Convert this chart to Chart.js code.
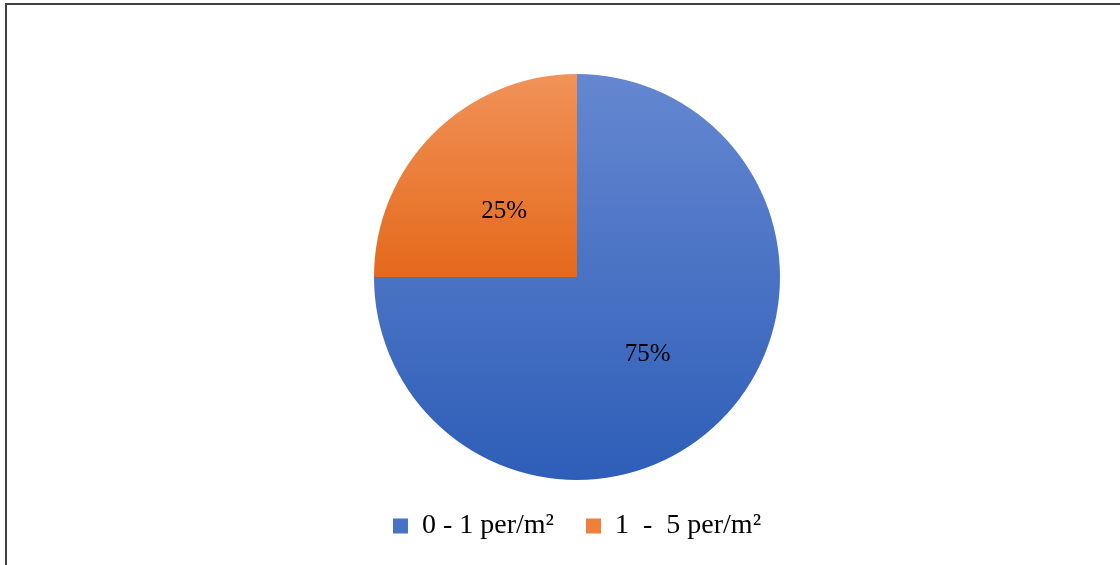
<!DOCTYPE html>
<html>
<head>
<meta charset="utf-8">
<script src="https://cdn.jsdelivr.net/npm/chart.js@4"></script>
<style>
  body { margin: 0; background: #fff; overflow: hidden; }
  #wrap { position: relative; width: 1120px; height: 565px; }
  #frame { position: absolute; left: 5px; top: 3px; width: 1200px; height: 700px; border: 2px solid #404040; }
  #myChart { position: absolute; left: 0; top: 0; }
</style>
</head>
<body>
<div id="wrap">
  <div id="frame"></div>
  <canvas id="myChart" width="1120" height="565"></canvas>
</div>
<script>
var labels = ["0 - 1 per/m²", "1  -  5 per/m²"];
var valores = [75, 25];
var coloresArriba = ["rgb(101,135,208)", "rgb(241,146,89)"];
var coloresAbajo = ["rgb(46,94,184)", "rgb(228,105,27)"];
var coloresLeyenda = ["rgb(70,114,200)", "rgb(238,128,60)"];

// degradado vertical por porcion, segun su caja
function degradado(ctx) {
  var chart = ctx.chart;
  var i = ctx.dataIndex;
  var area = chart.chartArea;
  if (!area || area.bottom - area.top < 10) return coloresAbajo[i];
  var cx = (area.left + area.right) / 2;
  var cy = (area.top + area.bottom) / 2;
  var r = Math.min(area.right - area.left, area.bottom - area.top) / 2;
  var total = valores.reduce((a, b) => a + b, 0);
  var antes = 0;
  for (var k = 0; k < i; k++) antes += valores[k];
  var a0 = -Math.PI / 2 + antes / total * 2 * Math.PI;
  var a1 = a0 + valores[i] / total * 2 * Math.PI;
  var yMin = cy, yMax = cy;
  for (var n = 0; n <= 90; n++) {
    var a = a0 + (a1 - a0) * n / 90;
    var yy = cy + r * Math.sin(a);
    if (yy < yMin) yMin = yy;
    if (yy > yMax) yMax = yy;
  }
  var g = chart.ctx.createLinearGradient(0, yMin, 0, yMax);
  g.addColorStop(0, coloresArriba[i]);
  g.addColorStop(1, coloresAbajo[i]);
  return g;
}

const etiquetas = {
  id: "etiquetas",
  afterDatasetsDraw(chart) {
    const c = chart.ctx;
    const meta = chart.getDatasetMeta(0);
    const total = valores.reduce((a, b) => a + b, 0);
    c.save();
    c.font = '25px "Liberation Serif"';
    c.fillStyle = "#000";
    c.textAlign = "center";
    c.textBaseline = "middle";
    meta.data.forEach((arc, i) => {
      const pos = arc.tooltipPosition();
      c.fillText(Math.round(valores[i] / total * 100) + "%", pos.x - 1, pos.y + 6);
    });
    c.restore();
  }
};

const data = {
  labels: labels,
  datasets: [
    {
      data: valores,
      backgroundColor: degradado,
      borderWidth: 0,
    },
  ],
};

const config = {
  type: "pie",
  data,
  options: {
    responsive: false,
    animation: false,
    layout: { padding: { left: 34, right: 0, top: 74, bottom: 15 } },
    plugins: {
      tooltip: { enabled: false },
      legend: {
        position: "bottom",
        labels: {
          boxWidth: 15,
          boxHeight: 15,
          padding: 32,
          color: "#000",
          font: { family: "Liberation Serif", size: 28 },
          generateLabels: function (chart) {
            return labels.map((t, i) => ({
              text: t,
              fillStyle: coloresLeyenda[i],
              strokeStyle: coloresLeyenda[i],
              lineWidth: 0,
              index: i,
            }));
          },
        },
      },
    },
  },
  plugins: [etiquetas],
};

var myChart = new Chart(document.getElementById("myChart"), config);
</script>
</body>
</html>
